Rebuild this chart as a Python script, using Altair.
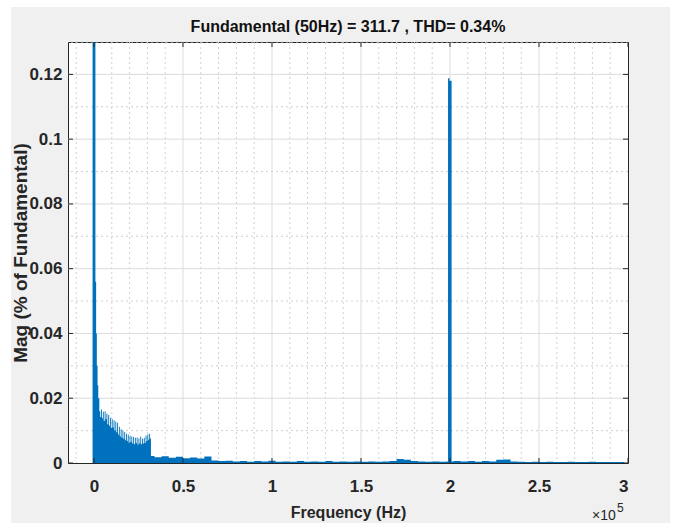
import altair as alt
import pandas as pd

# ---------------- data ----------------
# spike at the fundamental / DC region (Hz, % of fundamental)
spike0_freq = [-800, 800, 1200, 1600, 2000, 2400]
spike0_mag = [1.0, 0.056, 0.040, 0.030, 0.024, 0.020]

# low-frequency band 3 kHz .. 32 kHz (step 500 Hz)
low_freq = list(range(3000, 32500, 500))
low_mag = [0.0160, 0.0142, 0.0165, 0.0138, 0.0158, 0.0130, 0.0160, 0.0135,
           0.0152, 0.0120, 0.0148, 0.0115, 0.0140, 0.0108, 0.0135, 0.0110,
           0.0132, 0.0100, 0.0128, 0.0095, 0.0124, 0.0088, 0.0112, 0.0082,
           0.0104, 0.0078, 0.0100, 0.0075, 0.0096, 0.0070, 0.0090, 0.0068,
           0.0088, 0.0062, 0.0084, 0.0065, 0.0082, 0.0060, 0.0080, 0.0058,
           0.0078, 0.0062, 0.0079, 0.0056, 0.0076, 0.0060, 0.0082, 0.0058,
           0.0075, 0.0060, 0.0078, 0.0062, 0.0085, 0.0068, 0.0088, 0.0072,
           0.0090, 0.0076, 0.0022]

# rest of the spectrum 34 kHz .. 298 kHz (step 4 kHz)
high_freq = list(range(34000, 302000, 4000))
high_mag = [0.0018, 0.0021, 0.0016, 0.0019, 0.0015, 0.0017, 0.0014, 0.0020,
            0.0008, 0.0006, 0.0007, 0.0005, 0.0006, 0.0004, 0.0006, 0.0005,
            0.0007, 0.0004, 0.0005, 0.0004, 0.0006, 0.0004, 0.0005, 0.0004,
            0.0006, 0.0004, 0.0005, 0.0004, 0.0005, 0.0004, 0.0005, 0.0004,
            0.0005, 0.0006, 0.0012, 0.0010, 0.0006, 0.0005, 0.0004, 0.0005,
            0.0004, 0.0005, 0.0006, 0.0005, 0.0006, 0.0004, 0.0006, 0.0005,
            0.0010, 0.0011, 0.0005, 0.0004, 0.0003, 0.0004, 0.0003, 0.0004,
            0.0003, 0.0003, 0.0004, 0.0003, 0.0003, 0.0004, 0.0003, 0.0003,
            0.0003, 0.0003, 0.0003]

# switching-frequency component near 200 kHz
spike2_freq = [198900, 199700, 200900]
spike2_mag = [0.1188, 0.1180, 0.0005]

x_ticks = [0, 50000, 100000, 150000, 200000, 250000, 300000]
y_ticks = [0, 0.02, 0.04, 0.06, 0.08, 0.10, 0.12]
x_minor = [v for v in range(-10000, 300001, 10000) if v % 50000 != 0]
y_minor = [0.01, 0.03, 0.05, 0.07, 0.09, 0.11, 0.13]

title_text = "Fundamental (50Hz) = 311.7 , THD= 0.34%"

# ---------------- build ----------------
W, H = 560, 421
BLUE = "#0072BD"
DARK = "#262626"
FONT = "Liberation Sans, Arial, Helvetica"

freqs = spike0_freq + low_freq + high_freq + spike2_freq
mags = spike0_mag + low_mag + high_mag + spike2_mag
spec = pd.DataFrame({"f": freqs, "m": mags}).sort_values("f")

xs = alt.Scale(domain=[-14600, 300000], nice=False, zero=False)
ys = alt.Scale(domain=[0, 0.13], nice=False, zero=False)

xaxis = alt.Axis(values=x_ticks, labelExpr="format(datum.value/100000, '.1~f')",
                 title="Frequency (Hz)", grid=False, domain=False, ticks=False,
                 labelPadding=15, titlePadding=10, labelFont=FONT, titleFont=FONT,
                 labelFontSize=17, titleFontSize=16, labelFontWeight="bold",
                 titleFontWeight="bold", labelColor=DARK, titleColor=DARK)
yaxis = alt.Axis(values=y_ticks, format=".2~f", title="Mag (% of Fundamental)",
                 grid=False, domain=False, ticks=False, labelPadding=6,
                 titleX=-38, titleY=H / 2, titleAngle=270, titleBaseline="bottom",
                 titleAlign="center",
                 labelFont=FONT, titleFont=FONT,
                 labelFontSize=17, titleFontSize=19, labelFontWeight="bold",
                 titleFontWeight="bold", labelColor=DARK, titleColor=DARK)

X = lambda: alt.X("f:Q", scale=xs, axis=xaxis)
Y = lambda: alt.Y("m:Q", scale=ys, axis=yaxis)

one = pd.DataFrame({"a": [0]})
strips = [
    alt.Chart(one).mark_rect(color="white").encode(
        x=alt.value(-68), x2=alt.value(-57), y=alt.value(-42), y2=alt.value(H + 60)),
    alt.Chart(one).mark_rect(color="white").encode(
        x=alt.value(-68), x2=alt.value(W + 50), y=alt.value(-42), y2=alt.value(-35)),
    alt.Chart(one).mark_rect(color="white").encode(
        x=alt.value(W + 42), x2=alt.value(W + 50), y=alt.value(-42), y2=alt.value(H + 60)),
]

minor_x = alt.Chart(pd.DataFrame({"f": x_minor})).mark_rule(
    color="#d0d0d0", strokeWidth=1, strokeDash=[2, 3]).encode(x=X())
minor_y = alt.Chart(pd.DataFrame({"m": y_minor})).mark_rule(
    color="#d0d0d0", strokeWidth=1, strokeDash=[2, 3]).encode(y=Y())
major_x = alt.Chart(pd.DataFrame({"f": x_ticks[1:-1]})).mark_rule(
    color="#dcdcdc", strokeWidth=1).encode(x=X())
major_y = alt.Chart(pd.DataFrame({"m": y_ticks[1:]})).mark_rule(
    color="#dcdcdc", strokeWidth=1).encode(y=Y())

area = alt.Chart(spec).mark_area(color=BLUE, interpolate="step-after",
                                 clip=True, opacity=1).encode(x=X(), y=Y())

tx = pd.DataFrame({"f": x_ticks})
ty = pd.DataFrame({"m": y_ticks})
ticks = [
    alt.Chart(tx).mark_rule(color=DARK).encode(x=X(), y=alt.value(H), y2=alt.value(H - 5)),
    alt.Chart(tx).mark_rule(color=DARK).encode(x=X(), y=alt.value(0), y2=alt.value(5)),
    alt.Chart(ty).mark_rule(color=DARK).encode(y=Y(), x=alt.value(0), x2=alt.value(5)),
    alt.Chart(ty).mark_rule(color=DARK).encode(y=Y(), x=alt.value(W), x2=alt.value(W - 5)),
]

title = alt.Chart(one).mark_text(text=title_text, font=FONT, fontSize=16,
                                 fontWeight="bold", color="#111111", align="center",
                                 baseline="alphabetic").encode(
    x=alt.value(W / 2), y=alt.value(-10))

exp_base = alt.Chart(one).mark_text(text="×10", font=FONT, fontSize=14,
                                    color=DARK, align="left", baseline="alphabetic").encode(
    x=alt.value(W - 36), y=alt.value(H + 57))
exp_sup = alt.Chart(one).mark_text(text="5", font=FONT, fontSize=12,
                                   color=DARK, align="left", baseline="alphabetic").encode(
    x=alt.value(W - 11), y=alt.value(H + 49))

chart = alt.layer(*strips, minor_x, minor_y, major_x, major_y, area, *ticks,
                  title, exp_base, exp_sup).properties(
    width=W, height=H,
    background="#f0f0f0",
    padding={"left": 68, "top": 42, "right": 50, "bottom": 60},
    autosize=alt.AutoSizeParams(type="none"),
).configure_view(stroke=DARK, strokeWidth=1, fill="white")

chart.save("out.html", embed_options={"renderer": "svg", "actions": False})
